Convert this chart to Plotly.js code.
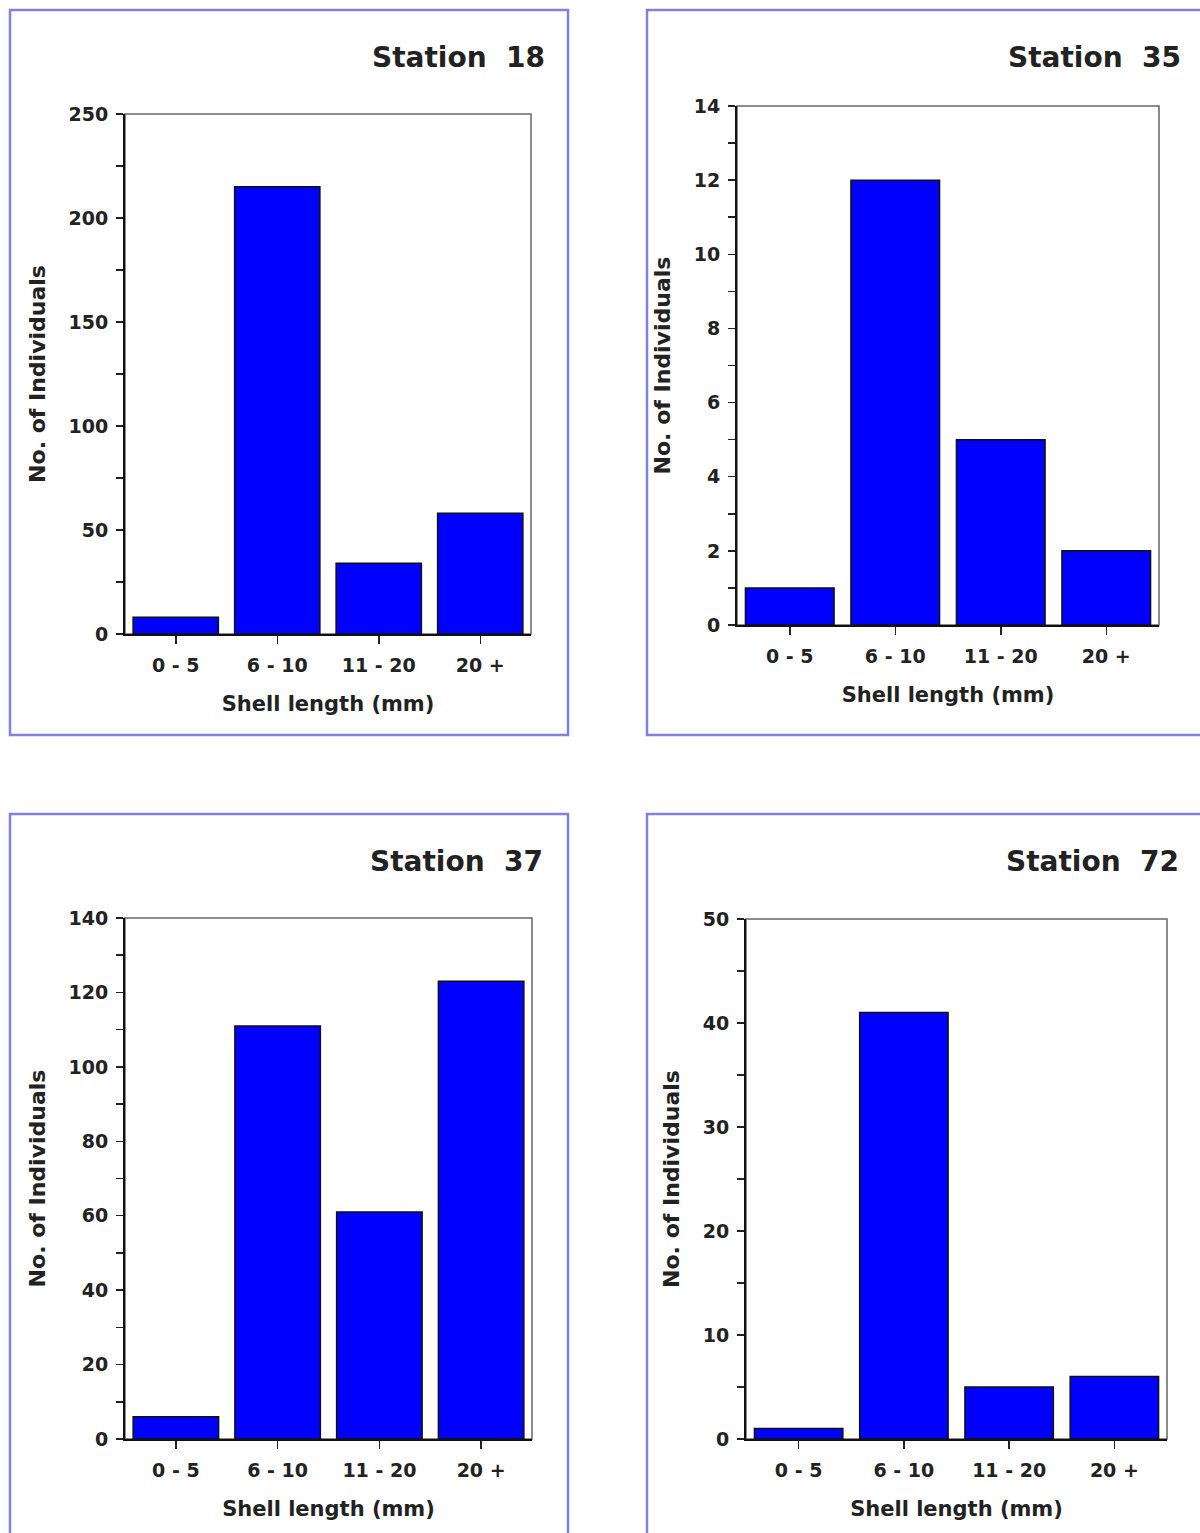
<!DOCTYPE html>
<html>
<head>
<meta charset="utf-8">
<script src="https://cdn.plot.ly/plotly-3.0.1.min.js"></script>
<style>html,body{margin:0;padding:0;background:#fff;}#chart{width:1200px;height:1533px;}</style>
</head>
<body>
<div id="chart"></div>
<script>
const categories = ['0 - 5', '6 - 10', '11 - 20', '20 +'];
const station18 = [8, 215, 34, 58];
const station35 = [1, 12, 5, 2];
const station37 = [6, 111, 61, 123];
const station72 = [1, 41, 5, 6];
const panelTitles = ['Station  18', 'Station  35', 'Station  37', 'Station  72'];
const yRanges = [[0, 250], [0, 14], [0, 140], [0, 50]];
const yMajor = [50, 2, 20, 10];
const yMinor = [25, 1, 10, 5];
const xTitle = 'Shell length (mm)';
const yTitle = 'No. of Individuals';

const W = 1200, H = 1533;
const px = x => x / W;
const py = y => 1 - y / H;

// plot areas in pixels [left, right, top, bottom]
const boxes = [[125, 531, 114, 634], [737, 1159, 106, 625], [125, 532, 918, 1439], [746, 1167, 919, 1439]];
const frames = [[10, 568, 10, 735], [647, 1203, 10, 735], [10, 568, 814, 1536], [647, 1203, 814, 1536]];
const titlePos = [[547, 57], [1183, 57], [545, 861], [1181, 861]];

const series = [station18, station35, station37, station72];
const fam = 'DejaVu Sans, Verdana, sans-serif';
const tickFont = {family: fam, color: '#222', size: 19, weight: 700};
const xTitleFont = {family: fam, color: '#222', size: 21, weight: 700};
const yTitleFont = {family: fam, color: '#222', size: 22, weight: 700};

const data = [];
const layout = {
  width: W, height: H, margin: {l: 0, r: 0, t: 0, b: 0},
  paper_bgcolor: '#fff', plot_bgcolor: '#fff', showlegend: false,
  font: tickFont, bargap: 0.16, shapes: [], annotations: []
};

series.forEach((vals, i) => {
  const n = i === 0 ? '' : String(i + 1);
  data.push({
    type: 'bar', x: categories, y: vals, xaxis: 'x' + n, yaxis: 'y' + n,
    marker: {color: '#0000ff', line: {color: '#111', width: 1.5}},
    hoverinfo: 'x+y'
  });
  const b = boxes[i];
  layout['xaxis' + n] = {
    domain: [px(b[0]), px(b[1])], anchor: 'y' + n,
    showline: true, linecolor: '#111', linewidth: 2,
    ticks: 'outside', ticklen: 8, tickwidth: 1.5, tickcolor: '#222',
    ticklabelstandoff: 5,
    tickfont: tickFont, showgrid: false, zeroline: false, fixedrange: true,
    title: {text: xTitle, font: xTitleFont, standoff: 22}
  };
  layout['yaxis' + n] = {
    domain: [py(b[3]), py(b[2])], anchor: 'x' + n,
    range: yRanges[i], dtick: yMajor[i], tick0: 0,
    showline: true, linecolor: '#111', linewidth: 2,
    ticks: 'outside', ticklen: 7, tickwidth: 1.5, tickcolor: '#222',
    minor: {dtick: yMinor[i], tick0: 0, ticks: 'outside', ticklen: 7, tickwidth: 1.5, tickcolor: '#222'},
    ticklabelstandoff: 4,
    tickfont: tickFont, showgrid: false, zeroline: false, fixedrange: true,
    title: {text: yTitle, font: yTitleFont, standoff: 17}
  };
  // gray frame around plot area
  layout.shapes.push({
    type: 'rect', xref: 'paper', yref: 'paper', layer: 'below',
    x0: px(b[0]), x1: px(b[1]), y0: py(b[3]), y1: py(b[2]),
    line: {color: '#666', width: 1.5}
  });
  // blue panel frame
  const f = frames[i];
  layout.shapes.push({
    type: 'rect', xref: 'paper', yref: 'paper',
    x0: px(f[0]), x1: px(f[1]), y0: py(f[3]), y1: py(f[2]),
    line: {color: '#8080e6', width: 2.5}
  });
  layout.annotations.push({
    text: panelTitles[i], xref: 'paper', yref: 'paper',
    x: px(titlePos[i][0]), y: py(titlePos[i][1]), xanchor: 'right', yanchor: 'middle',
    showarrow: false, font: {family: fam, size: 28, color: '#222', weight: 700}
  });
});

Plotly.newPlot('chart', data, layout, {staticPlot: true});
</script>
</body>
</html>
